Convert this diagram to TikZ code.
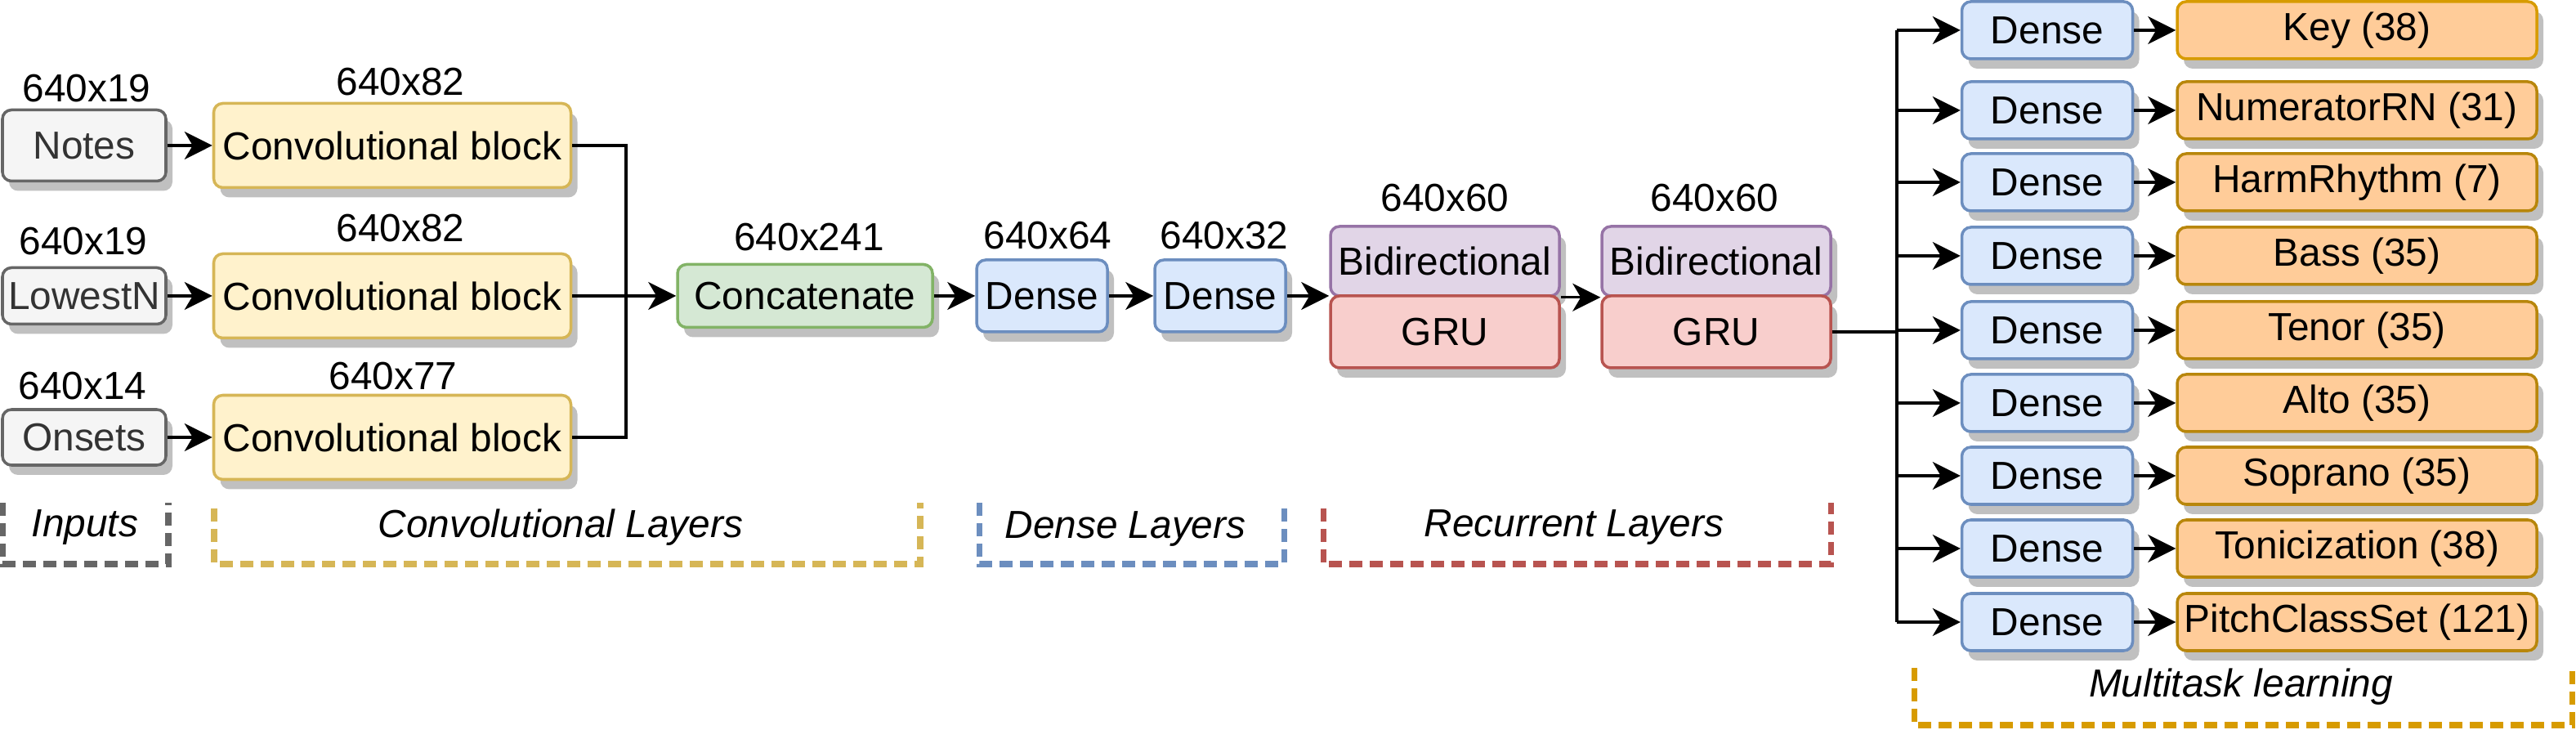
\documentclass[tikz,border=0pt]{standalone}
\usepackage{fontspec}
\setmainfont{Liberation Sans}
\usetikzlibrary{arrows.meta,positioning,shadows}
\definecolor{LineInk}{HTML}{000000}
\definecolor{InputFill}{HTML}{F5F5F5}
\definecolor{InputLine}{HTML}{666666}
\definecolor{InputText}{HTML}{333333}
\definecolor{ConvFill}{HTML}{FFF2CC}
\definecolor{ConvLine}{HTML}{D6B656}
\definecolor{MergeFill}{HTML}{D5E8D4}
\definecolor{MergeLine}{HTML}{82B366}
\definecolor{DenseFill}{HTML}{DAE8FC}
\definecolor{DenseLine}{HTML}{6C8EBF}
\definecolor{BidirFill}{HTML}{E1D5E7}
\definecolor{BidirLine}{HTML}{9673A6}
\definecolor{GruFill}{HTML}{F8CECC}
\definecolor{GruLine}{HTML}{B85450}
\definecolor{TaskFill}{HTML}{FFCC99}
\definecolor{TaskLine}{HTML}{B8860B}
\definecolor{KeyLine}{HTML}{D79B00}
\definecolor{ShadowGray}{HTML}{C0C0C0}
\tikzset{
  diagram/.style={font=\fontsize{13.6}{16}\selectfont,text=LineInk,>={Stealth[length=3.4mm,width=3.4mm,inset=1mm]}},
  layer/.style={line width=1pt,rounded corners=1.1mm,inner sep=0pt,align=center,
    drop shadow={shadow xshift=0.08cm,shadow yshift=-0.12cm,fill=ShadowGray,opacity=1}},
  inputbox/.style={layer,draw=InputLine,fill=InputFill,text=InputText,minimum width=2cm},
  convbox/.style={layer,draw=ConvLine,fill=ConvFill,minimum width=4.37cm,minimum height=1.03cm},
  mergebox/.style={layer,draw=MergeLine,fill=MergeFill,minimum width=3.12cm,minimum height=0.77cm},
  densebox/.style={layer,draw=DenseLine,fill=DenseFill,minimum width=1.6cm,minimum height=0.88cm},
  headbox/.style={layer,draw=DenseLine,fill=DenseFill,minimum width=2.09cm,minimum height=0.70cm},
  bidirbox/.style={layer,draw=BidirLine,fill=BidirFill,minimum width=2.8cm,minimum height=0.85cm},
  grubox/.style={layer,draw=GruLine,fill=GruFill,minimum width=2.8cm,minimum height=0.88cm},
  taskbox/.style={layer,draw=TaskLine,fill=TaskFill,minimum width=4.4cm,minimum height=0.70cm},
  dims/.style={inner sep=0pt},
  flow/.style={->,line width=0.9pt,draw=LineInk},
  wire/.style={line width=0.9pt,draw=LineInk},
  group/.style={line width=2pt,dash pattern=on 0.16cm off 0.09cm},
  grouplabel/.style={inner sep=0pt,font=\fontsize{13.6}{16}\selectfont\itshape},
}

\begin{document}
\begin{tikzpicture}[diagram]
  \useasboundingbox (0,0) rectangle (31.52,-8.93);

  % inputs and convolutional blocks
  \node[inputbox,minimum height=0.87cm] (notes) at (1.03,-1.78) {Notes};
  \node[inputbox,minimum height=0.69cm] (lowestn) at (1.03,-3.62) {LowestN};
  \node[inputbox,minimum height=0.68cm] (onsets) at (1.03,-5.35) {Onsets};
  \node[dims] (dimnotes) at (1.06,-1.08) {640x19};
  \node[dims] (dimlowestn) at (1.02,-2.95) {640x19};
  \node[dims] (dimonsets) at (1.01,-4.72) {640x14};

  \node[convbox] (conv1) at (4.80,-1.78) {Convolutional block};
  \node[convbox] (conv2) at (4.80,-3.62) {Convolutional block};
  \node[convbox] (conv3) at (4.80,-5.35) {Convolutional block};
  \node[dims] (dimconv1) at (4.90,-1.00) {640x82};
  \node[dims] (dimconv2) at (4.90,-2.79) {640x82};
  \node[dims] (dimconv3) at (4.81,-4.60) {640x77};

  \draw[flow] (notes) -- (conv1);
  \draw[flow] (lowestn) -- (conv2);
  \draw[flow] (onsets) -- (conv3);

  \node[mergebox] (concat) at (9.85,-3.62) {Concatenate};
  \node[dims] (dimconcat) at (9.90,-2.90) {640x241};
  \coordinate (joinup) at (7.66,-1.78);
  \coordinate (joindown) at (7.66,-5.35);
  \draw[wire] (conv1.east) -- (joinup) -- (joindown) -- (conv3.east);
  \draw[flow] (conv2) -- (concat);

  % dense and recurrent layers
  \node[densebox] (dense1) at (12.75,-3.62) {Dense};
  \node[densebox] (dense2) at (14.93,-3.62) {Dense};
  \node[dims] (dimdense1) at (12.82,-2.88) {640x64};
  \node[dims] (dimdense2) at (14.98,-2.88) {640x32};
  \draw[flow] (concat) -- (dense1);
  \draw[flow] (dense1) -- (dense2);

  \node[bidirbox] (bidir1) at (17.68,-3.195) {Bidirectional};
  \node[grubox] (gru1) at (17.68,-4.06) {GRU};
  \node[bidirbox] (bidir2) at (21.00,-3.195) {Bidirectional};
  \node[grubox] (gru2) at (21.00,-4.06) {GRU};
  \node[dims] (dimrnn1) at (17.68,-2.42) {640x60};
  \node[dims] (dimrnn2) at (20.98,-2.42) {640x60};
  \draw[flow] (dense2.east) -- (dense2.east -| bidir1.west);
  \draw[flow] (bidir1.south east) -- (bidir2.south west);

  % multitask heads
  \node[headbox] (head1) at (25.05,-0.37) {Dense};
  \node[headbox] (head2) at (25.05,-1.35) {Dense};
  \node[headbox] (head3) at (25.05,-2.23) {Dense};
  \node[headbox] (head4) at (25.05,-3.13) {Dense};
  \node[headbox] (head5) at (25.05,-4.04) {Dense};
  \node[headbox] (head6) at (25.05,-4.93) {Dense};
  \node[headbox] (head7) at (25.05,-5.82) {Dense};
  \node[headbox] (head8) at (25.05,-6.71) {Dense};
  \node[headbox] (head9) at (25.05,-7.61) {Dense};

  \node[taskbox,draw=KeyLine] (outkey) at (28.84,-0.37) {Key (38)};
  \node[taskbox] (outnum) at (28.84,-1.35) {NumeratorRN (31)};
  \node[taskbox] (outharm) at (28.84,-2.23) {HarmRhythm (7)};
  \node[taskbox] (outbass) at (28.84,-3.13) {Bass (35)};
  \node[taskbox] (outtenor) at (28.84,-4.04) {Tenor (35)};
  \node[taskbox] (outalto) at (28.84,-4.93) {Alto (35)};
  \node[taskbox] (outsoprano) at (28.84,-5.82) {Soprano (35)};
  \node[taskbox] (outtonic) at (28.84,-6.71) {Tonicization (38)};
  \node[taskbox] (outpcset) at (28.84,-7.61) {PitchClassSet (121)};

  \coordinate (trunktop) at (23.21,-0.37);
  \coordinate (trunkbot) at (23.21,-7.61);
  \draw[wire] (trunktop) -- (trunkbot);
  \draw[wire] (gru2.east) -- (gru2.east -| trunktop);

  \draw[flow] (head1.west -| trunktop) -- (head1);
  \draw[flow] (head2.west -| trunktop) -- (head2);
  \draw[flow] (head3.west -| trunktop) -- (head3);
  \draw[flow] (head4.west -| trunktop) -- (head4);
  \draw[flow] (head5.west -| trunktop) -- (head5);
  \draw[flow] (head6.west -| trunktop) -- (head6);
  \draw[flow] (head7.west -| trunktop) -- (head7);
  \draw[flow] (head8.west -| trunktop) -- (head8);
  \draw[flow] (head9.west -| trunktop) -- (head9);

  \draw[flow] (head1) -- (outkey);
  \draw[flow] (head2) -- (outnum);
  \draw[flow] (head3) -- (outharm);
  \draw[flow] (head4) -- (outbass);
  \draw[flow] (head5) -- (outtenor);
  \draw[flow] (head6) -- (outalto);
  \draw[flow] (head7) -- (outsoprano);
  \draw[flow] (head8) -- (outtonic);
  \draw[flow] (head9) -- (outpcset);

  % group brackets
  \draw[group,draw=InputLine] (0.03,-6.15) -- (0.03,-6.90) -- (2.06,-6.90) -- (2.06,-6.15);
  \draw[group,draw=ConvLine] (2.62,-6.22) -- (2.62,-6.90) -- (11.26,-6.90) -- (11.26,-6.15);
  \draw[group,draw=DenseLine] (11.98,-6.15) -- (11.98,-6.90) -- (15.71,-6.90) -- (15.71,-6.15);
  \draw[group,draw=GruLine] (16.19,-6.22) -- (16.19,-6.90) -- (22.40,-6.90) -- (22.40,-6.15);
  \draw[group,draw=KeyLine] (23.42,-8.17) -- (23.42,-8.87) -- (31.47,-8.87) -- (31.47,-8.17);
  \node[grouplabel] (lblinputs) at (1.04,-6.45) {Inputs};
  \node[grouplabel] (lblconv) at (6.86,-6.45) {Convolutional Layers};
  \node[grouplabel] (lbldense) at (13.77,-6.47) {Dense Layers};
  \node[grouplabel] (lblrnn) at (19.26,-6.45) {Recurrent Layers};
  \node[grouplabel] (lbltask) at (27.42,-8.40) {Multitask learning};
\end{tikzpicture}
\end{document}
